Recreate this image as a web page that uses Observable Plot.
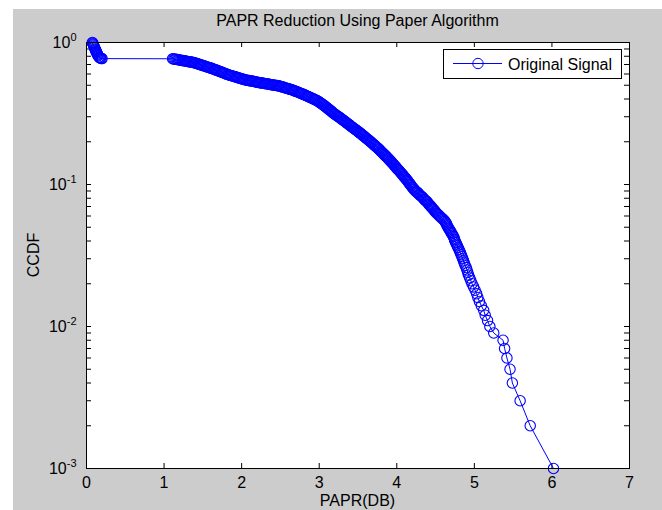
<!DOCTYPE html>
<html><head><meta charset="utf-8">
<script src="https://cdn.jsdelivr.net/npm/d3@7"></script>
<script src="https://cdn.jsdelivr.net/npm/@observablehq/plot@0.6"></script>
<style>
html,body{margin:0;padding:0;background:#fff;}
#wrap{position:relative;width:662px;height:510px;overflow:hidden;}
#bg{position:absolute;left:13px;top:9px;right:0;bottom:0;background:#cccccc;}
#wrap svg{position:absolute;left:0;top:0;}
</style></head><body>
<div id="wrap"><div id="bg"></div></div>
<script>
// PAPR (dB) values
const papr = [
  0.075,0.080,0.085,0.090,0.095,0.100,0.105,0.110,0.115,0.120,0.125,0.130,0.135,0.140,0.145,0.150,0.160,0.170,0.180,0.190,0.200,
  1.110,1.125,1.140,1.155,1.170,1.185,1.200,1.215,1.230,1.245,1.260,1.275,1.290,1.305,1.320,1.335,1.350,1.365,
  1.380,1.395,1.410,1.425,1.440,1.455,1.470,1.485,1.500,1.515,1.530,1.545,1.560,1.575,1.590,
  1.605,1.620,1.635,1.650,1.665,1.680,1.695,1.710,1.725,1.740,1.755,1.770,1.785,1.800,1.815,
  1.830,1.845,1.860,1.875,1.890,1.905,1.920,1.935,1.950,1.965,1.980,1.995,2.010,2.025,
  2.040,2.055,2.070,2.085,2.100,2.115,2.130,2.145,2.160,2.175,2.190,2.205,2.220,2.235,
  2.250,2.265,2.280,2.295,2.310,2.325,2.340,2.355,2.370,2.385,2.400,2.415,2.430,2.445,2.460,
  2.475,2.490,2.505,2.520,2.535,2.550,2.565,2.580,2.595,2.610,2.625,2.640,2.655,2.670,
  2.685,2.700,2.715,2.730,2.745,2.760,2.775,2.790,
  2.805,2.820,2.835,2.850,2.865,2.880,2.895,2.910,2.925,2.940,2.955,2.970,
  2.985,2.997,3.009,3.021,3.033,3.045,3.057,3.069,3.081,3.093,3.105,3.117,3.129,3.141,3.153,3.165,3.177,3.189,
  3.201,3.213,3.225,3.237,3.249,3.261,3.273,3.285,3.297,3.309,3.321,3.333,3.345,3.357,3.369,3.381,3.393,3.405,
  3.417,3.429,3.441,3.453,3.465,3.477,3.489,3.501,3.513,3.525,3.537,3.549,3.561,3.573,3.585,3.597,3.609,3.621,
  3.633,3.645,3.657,3.669,3.681,3.693,3.705,3.717,3.729,3.741,3.753,3.765,3.777,3.789,3.801,3.813,3.825,
  3.836,3.846,3.856,3.866,3.876,3.886,3.896,3.906,3.916,3.926,3.936,3.946,3.956,3.966,3.976,3.986,3.996,4.006,
  4.016,4.026,4.036,4.046,4.056,4.066,4.076,4.086,4.096,4.106,4.116,4.126,4.136,4.146,4.156,4.166,4.176,4.186,4.196,4.206,4.216,
  4.228,4.240,4.252,4.264,4.276,4.288,4.300,4.312,4.324,4.336,4.348,4.360,4.372,4.384,4.396,4.408,4.420,4.432,
  4.44,4.45,4.46,4.47,4.48,4.49,4.50,4.51,4.525,4.54,4.55,4.565,4.58,4.595,4.61,
  4.62,4.63,4.64,4.645,4.65,4.66,4.67,4.68,4.69,4.70,
  4.71,4.72,4.73,4.74,4.745,4.75,4.76,4.77,4.78,4.79,
  4.80,4.81,4.82,4.83,4.84,4.85,4.86,4.87,4.88,4.895,
  4.905,4.915,4.925,4.94,4.955,4.97,4.99,5.01,5.03,5.045,
  5.065,5.09,5.12,5.14,5.17,5.20,
  5.25,5.37,5.39,5.42,5.46,5.49,5.59,5.72,6.02
];
// CCDF values
const ccdf = [
  1.000,0.990,0.975,0.960,0.945,0.930,0.915,0.900,0.888,0.876,0.864,0.852,0.840,0.828,0.817,0.806,0.792,0.783,0.777,0.773,0.770,
  0.768,0.766,0.763,0.761,0.758,0.756,0.753,0.751,0.748,0.746,0.743,0.741,0.738,0.736,0.733,0.731,0.728,0.726,
  0.723,0.719,0.715,0.710,0.706,0.702,0.698,0.693,0.689,0.685,0.681,0.676,0.672,0.668,0.664,
  0.660,0.655,0.651,0.646,0.642,0.637,0.633,0.628,0.624,0.619,0.615,0.610,0.606,0.601,0.597,
  0.593,0.589,0.586,0.583,0.579,0.576,0.573,0.569,0.566,0.563,0.559,0.556,0.553,0.550,
  0.547,0.545,0.543,0.541,0.539,0.537,0.535,0.533,0.531,0.529,0.527,0.525,0.523,0.521,
  0.520,0.518,0.516,0.515,0.513,0.512,0.510,0.508,0.507,0.505,0.503,0.502,0.500,0.498,0.497,
  0.495,0.493,0.490,0.487,0.485,0.482,0.479,0.477,0.474,0.471,0.468,0.466,0.463,0.460,
  0.456,0.453,0.450,0.446,0.443,0.439,0.436,0.433,
  0.429,0.426,0.422,0.418,0.415,0.411,0.408,0.404,0.401,0.397,0.394,0.390,
  0.386,0.382,0.378,0.374,0.370,0.366,0.362,0.358,0.354,0.349,0.345,0.341,0.337,0.333,0.329,0.325,0.320,0.316,
  0.313,0.310,0.306,0.303,0.300,0.297,0.294,0.290,0.287,0.284,0.281,0.278,0.274,0.271,0.268,0.265,0.262,0.258,
  0.255,0.253,0.250,0.247,0.244,0.242,0.239,0.236,0.233,0.231,0.228,0.225,0.222,0.220,0.217,0.214,0.211,0.209,
  0.206,0.204,0.201,0.199,0.196,0.193,0.191,0.188,0.186,0.183,0.181,0.178,0.176,0.173,0.170,0.168,0.165,
  0.163,0.161,0.159,0.157,0.155,0.153,0.151,0.149,0.147,0.145,0.143,0.141,0.139,0.137,0.135,0.133,0.131,0.129,
  0.127,0.126,0.124,0.122,0.120,0.119,0.117,0.115,0.113,0.112,0.110,0.108,0.107,0.105,0.103,0.101,0.100,0.098,0.096,0.095,0.093,
  0.092,0.090,0.089,0.088,0.087,0.085,0.084,0.083,0.082,0.081,0.079,0.078,0.077,0.076,0.075,0.073,0.072,0.071,
  0.070,0.069,0.068,0.067,0.066,0.065,0.064,0.063,0.062,0.061,0.060,0.059,0.058,0.057,0.056,
  0.055,0.054,0.053,0.052,0.051,0.050,0.049,0.048,0.047,0.046,
  0.045,0.044,0.043,0.042,0.041,0.040,0.039,0.038,0.037,0.036,
  0.035,0.034,0.033,0.032,0.031,0.030,0.029,0.028,0.027,0.026,
  0.025,0.024,0.023,0.022,0.021,0.020,0.019,0.018,0.017,0.016,
  0.015,0.014,0.013,0.012,0.011,0.010,
  0.009,0.008,0.007,0.006,0.005,0.004,0.003,0.002,0.001
];
const xTicks = [0,1,2,3,4,5,6,7];
const yMajorTicks = [0.001,0.01,0.1,1];
const yTickLabels = ["10^-3","10^-2","10^-1","10^0"];
const yMinorTicks = [0.002,0.003,0.004,0.005,0.006,0.007,0.008,0.009,
                     0.02,0.03,0.04,0.05,0.06,0.07,0.08,0.09,
                     0.2,0.3,0.4,0.5,0.6,0.7,0.8,0.9];
const titleText = "PAPR Reduction Using Paper Algorithm";
const xLabel = "PAPR(DB)";
const yLabel = "CCDF";
const seriesName = "Original Signal";

const data = papr.map((x, i) => ({x, y: ccdf[i]}));
const W = 662, H = 510, ML = 86, MR = 33, MT = 42, MB = 42;
const PW = W - ML - MR, PH = H - MT - MB, T = 5;
const FONT = "'Liberation Sans', Arial, Helvetica, sans-serif";
const BLUE = "#0000ff";
const R = 5.2;
const allYTicks = [...yMajorTicks, ...yMinorTicks];

const svg = Plot.plot({
  width: W, height: H,
  marginLeft: ML, marginRight: MR, marginTop: MT, marginBottom: MB,
  style: {background: "transparent", fontFamily: FONT, fontSize: "16px", color: "#000", overflow: "visible"},
  x: {domain: [0, 7]},
  y: {type: "log", domain: [0.001, 1]},
  marks: [
    Plot.frame({fill: "white"}),
    Plot.tickX(xTicks, {x: d => d, stroke: "black", insetTop: PH - T}),
    Plot.tickX(xTicks, {x: d => d, stroke: "black", insetBottom: PH - T}),
    Plot.tickY(allYTicks, {y: d => d, stroke: "black", insetRight: PW - T}),
    Plot.tickY(allYTicks, {y: d => d, stroke: "black", insetLeft: PW - T}),
    Plot.line(data, {x: "x", y: "y", stroke: BLUE, strokeWidth: 1}),
    Plot.dot(data, {x: "x", y: "y", r: R, stroke: BLUE, strokeWidth: 1.1, fill: "none"}),
    Plot.frame({stroke: "black"}),
    Plot.axisX(xTicks, {tickSize: 0, tickPadding: 8, label: null, fontSize: 16}),
    Plot.axisY(yMajorTicks, {tickSize: 0, tickPadding: 10, label: null, fontSize: 16,
      tickFormat: d => yTickLabels[yMajorTicks.indexOf(d)]})
  ]
});
document.getElementById("wrap").appendChild(svg);

// superscript exponents on the y tick labels
d3.select(svg).selectAll('g[aria-label="y-axis tick label"] text').each(function() {
  const s = this.textContent;
  const [base, exp] = s.split("^");
  const t = d3.select(this);
  t.text(null);
  t.append("tspan").text(base);
  t.append("tspan").attr("dy", "-0.6em").attr("font-size", "11px").text(exp);
});

const g = d3.select(svg).append("g").attr("font-family", FONT).attr("fill", "#000");
g.append("text").attr("x", ML + PW / 2).attr("y", 26).attr("text-anchor", "middle")
  .attr("font-size", 16).text(titleText);
g.append("text").attr("x", ML + PW / 2).attr("y", 506).attr("text-anchor", "middle")
  .attr("font-size", 16).text(xLabel);
g.append("text").attr("transform", `translate(39,${MT + PH / 2}) rotate(-90)`)
  .attr("text-anchor", "middle").attr("font-size", 16).text(yLabel);

// legend
const lg = d3.select(svg).append("g");
lg.append("rect").attr("x", 443.5).attr("y", 49.5).attr("width", 178).attr("height", 29)
  .attr("fill", "white").attr("stroke", "black");
lg.append("line").attr("x1", 453).attr("x2", 502).attr("y1", 63.5).attr("y2", 63.5)
  .attr("stroke", BLUE);
lg.append("circle").attr("cx", 478).attr("cy", 63.5).attr("r", R)
  .attr("fill", "none").attr("stroke", BLUE);
lg.append("text").attr("x", 508).attr("y", 69.5).attr("text-anchor", "start")
  .attr("font-family", FONT).attr("font-size", 16).attr("fill", "#000").text(seriesName);
</script>
</body></html>
